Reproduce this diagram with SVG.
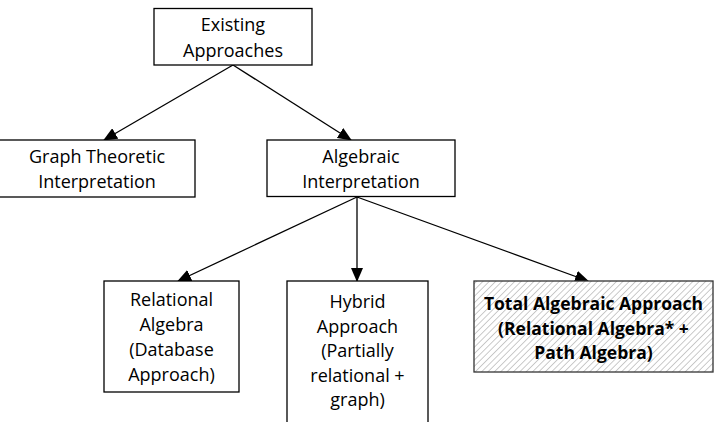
<svg xmlns="http://www.w3.org/2000/svg" width="722" height="422" viewBox="0 0 722 422">
<defs>
<style>
.box{fill:#fff;stroke:#000;stroke-width:1.3}
.hatch{fill:url(#hatch);stroke:#333;stroke-width:1.3}
.t{font-family:"Open Sans","Liberation Sans",sans-serif;font-size:18px;fill:#000;text-anchor:middle}
.b{font-weight:bold;font-size:17.5px}
.c{stroke:#000;stroke-width:1.3;fill:none;marker-end:url(#arr)}
</style>
<marker id="arr" markerUnits="userSpaceOnUse" markerWidth="14" markerHeight="12" viewBox="0 0 14 12" refX="13" refY="6" orient="auto">
<path d="M0,0 L14,6 L0,12 Z" fill="#000"/>
</marker>
<pattern id="hatch" patternUnits="userSpaceOnUse" width="4.5" height="4.5" patternTransform="rotate(45)">
<rect width="4.5" height="4.5" fill="#fff"/>
<line x1="0" y1="0" x2="0" y2="4.5" stroke="#b5b5b5" stroke-width="1.4"/>
</pattern>
</defs>
<g id="connectors">
<line class="c" x1="233" y1="65" x2="104" y2="140"/>
<line class="c" x1="233" y1="65" x2="351" y2="140"/>
<line class="c" x1="357" y1="197" x2="178" y2="281"/>
<line class="c" x1="357" y1="197" x2="357" y2="281"/>
<line class="c" x1="357" y1="197" x2="588" y2="281"/>
</g>
<g id="existing">
<rect class="box" x="154" y="8.5" width="158" height="56.5"/>
<text class="t" x="233" y="31">Existing</text>
<text class="t" x="233" y="57">Approaches</text>
</g>
<g id="graph">
<rect class="box" x="-1" y="140" width="196" height="57"/>
<text class="t" x="97" y="163">Graph Theoretic</text>
<text class="t" x="97" y="188">Interpretation</text>
</g>
<g id="algebraic">
<rect class="box" x="267" y="140" width="188" height="56.5"/>
<text class="t" x="361" y="163">Algebraic</text>
<text class="t" x="361" y="188">Interpretation</text>
</g>
<g id="relational">
<rect class="box" x="104" y="281" width="135" height="111"/>
<text class="t" x="171.5" y="306">Relational</text>
<text class="t" x="171.5" y="331">Algebra</text>
<text class="t" x="171.5" y="356">(Database</text>
<text class="t" x="171.5" y="381">Approach)</text>
</g>
<g id="hybrid">
<rect class="box" x="287" y="281" width="141" height="160"/>
<text class="t" x="357.5" y="308">Hybrid</text>
<text class="t" x="357.5" y="333">Approach</text>
<text class="t" x="357.5" y="357">(Partially</text>
<text class="t" x="357.5" y="382">relational +</text>
<text class="t" x="357.5" y="406">graph)</text>
</g>
<g id="total">
<rect class="hatch" x="474" y="281" width="239" height="91"/>
<text class="t b" x="593.5" y="310">Total Algebraic Approach</text>
<text class="t b" x="593.5" y="335">(Relational Algebra* +</text>
<text class="t b" x="593.5" y="359">Path Algebra)</text>
</g>
</svg>
